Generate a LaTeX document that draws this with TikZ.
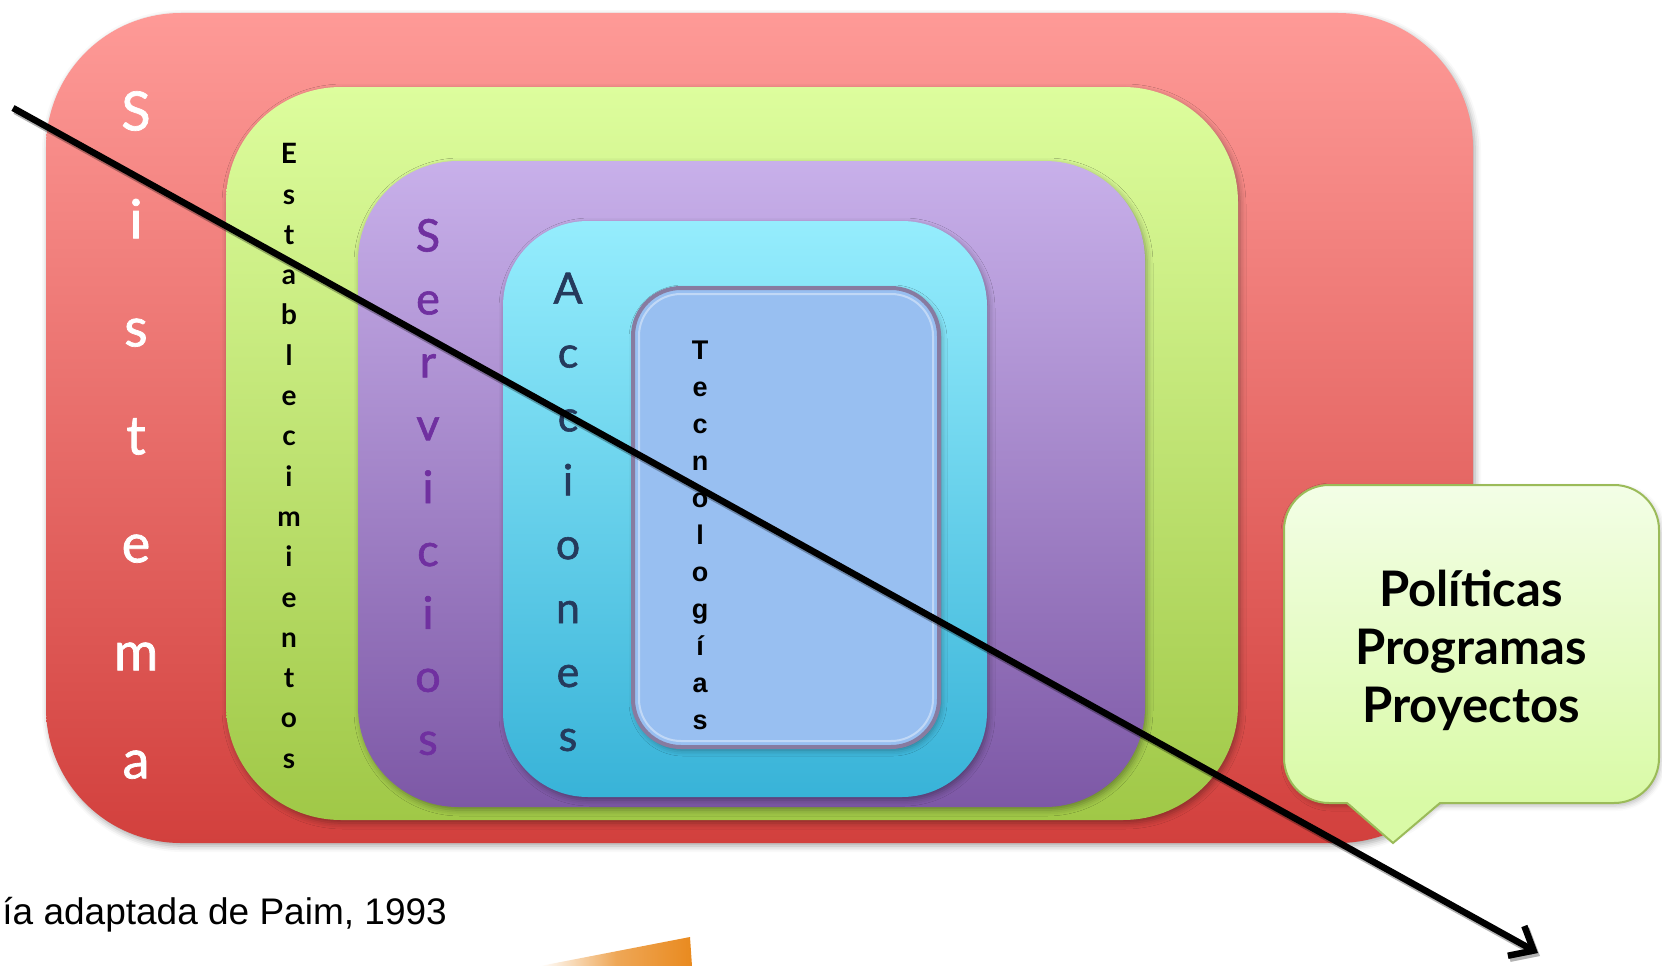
\documentclass[tikz,border=0pt]{standalone}
\usepackage{fontspec}
\setmainfont{Lato}
\newfontfamily\latosemi[FakeBold=1.3]{Lato}
\newfontfamily\arialf{Liberation Sans}
\usetikzlibrary{shadows.blur,arrows.meta}
\definecolor{redtop}{HTML}{FE9A97}
\definecolor{redbot}{HTML}{D2403D}
\definecolor{grntop}{HTML}{DDFD9D}
\definecolor{grnbot}{HTML}{A0C847}
\definecolor{purtop}{HTML}{C8B0EA}
\definecolor{purbot}{HTML}{7D58A6}
\definecolor{cyntop}{HTML}{95EDFD}
\definecolor{cynbot}{HTML}{38B3D8}
\definecolor{tecfill}{HTML}{98BFF1}
\definecolor{tecedge}{HTML}{877BA0}
\definecolor{servc}{HTML}{7030A0}
\definecolor{accc}{HTML}{253A5C}
\definecolor{caltop}{HTML}{F3FEE6}
\definecolor{calbot}{HTML}{D9FAA6}
\definecolor{caledge}{HTML}{9BBB59}
\definecolor{orng}{HTML}{E98A1F}
\tikzset{
  layerbox/.style={rectangle, draw=none, inner sep=0pt, outer sep=0pt,
    blur shadow={shadow xshift=2pt, shadow yshift=-3pt, shadow blur radius=6pt, shadow opacity=35}},
  word/.style={inner sep=0pt, align=center},
  bigarrow/.style={line width=6.5pt, -{Straight Barb[length=20pt,width=34pt,line width=6.5pt]}}
}
\begin{document}
\begin{tikzpicture}[x=1pt,y=-1pt]
\useasboundingbox (0,0) rectangle (1662,966);
% nested boxes
\node[layerbox, rounded corners=135pt, top color=redtop, bottom color=redbot,
  minimum width=1427pt, minimum height=830pt] (sistemabox) at (759.5,428) {};
\node[layerbox, rounded corners=115pt, top color=grntop, bottom color=grnbot,
  minimum width=1012pt, minimum height=733pt] (estbox) at (732,453.5) {};
\node[layerbox, rounded corners=100pt, top color=purtop, bottom color=purbot,
  minimum width=787pt, minimum height=646pt] (servbox) at (751.5,484) {};
\node[layerbox, rounded corners=85pt, top color=cyntop, bottom color=cynbot,
  minimum width=484pt, minimum height=576pt] (accbox) at (745,509) {};
\node[layerbox, rounded corners=48pt, fill=tecfill, draw=tecedge, line width=4pt,
  minimum width=306pt, minimum height=459pt] (tecbox) at (786,517.5) {};
\node[rectangle, rounded corners=42pt, draw=white, draw opacity=0.4, line width=2pt,
  minimum width=294pt, minimum height=447pt] (tecgloss) at (786,517.5) {};
% vertical words
\node[word, text=white, font=\latosemi\fontsize{54}{108}\selectfont] (sistema) at (136,435)
  {S\\i\\s\\t\\e\\m\\a};
\node[word, text=black, font=\bfseries\fontsize{28}{40.3}\selectfont] (establ) at (289,456)
  {E\\s\\t\\a\\b\\l\\e\\c\\i\\m\\i\\e\\n\\t\\o\\s};
\node[word, text=servc, font=\latosemi\fontsize{45}{62.9}\selectfont] (servicios) at (428,487)
  {S\\e\\r\\v\\i\\c\\i\\o\\s};
\node[word, text=accc, font=\latosemi\fontsize{43}{63.9}\selectfont] (acciones) at (568,512)
  {A\\c\\c\\i\\o\\n\\e\\s};
\node[word, text=black, font=\arialf\bfseries\fontsize{27}{37}\selectfont] (tecno) at (700,535)
  {T\\e\\c\\n\\o\\l\\o\\g\\í\\a\\s};
% callout
\node[rectangle, rounded corners=45pt, draw=caledge, line width=2pt,
  top color=caltop, bottom color=calbot, minimum width=375pt, minimum height=318pt,
  blur shadow={shadow xshift=2pt, shadow yshift=-3pt, shadow blur radius=5pt, shadow opacity=25}]
  (callout) at (1471.5,644) {};
\node[word, font=\bfseries\fontsize{49}{58}\selectfont] (callouttext) at (1471,650)
  {Políticas\\Programas\\Proyectos};
\coordinate (tl) at (1347,803);
\coordinate (tt) at (1393,843);
\coordinate (tr) at (1440,803);
\fill[calbot] (1345,800) -- (tt) -- (1442,800) -- cycle;
\draw[caledge, line width=2pt, line join=miter] (tl) -- (tt) -- (tr);
% caption
\node[anchor=base east, inner sep=0pt, font=\arialf\fontsize{37}{40}\selectfont] (caption)
  at (447,924) {ía adaptada de Paim, 1993};
% orange fragment
\shade[left color=white, right color=orng, middle color=orng!75] (540,966) -- (690,937) -- (692,966) -- cycle;
% arrow
\coordinate (a0) at (13,108);
\coordinate (a1) at (1538,953);
\draw[bigarrow, black, opacity=0.3] ([shift={(2,3)}]a0) -- ([shift={(2,3)}]a1);
\draw[bigarrow, black] (a0) -- (a1);
\end{tikzpicture}
\end{document}
